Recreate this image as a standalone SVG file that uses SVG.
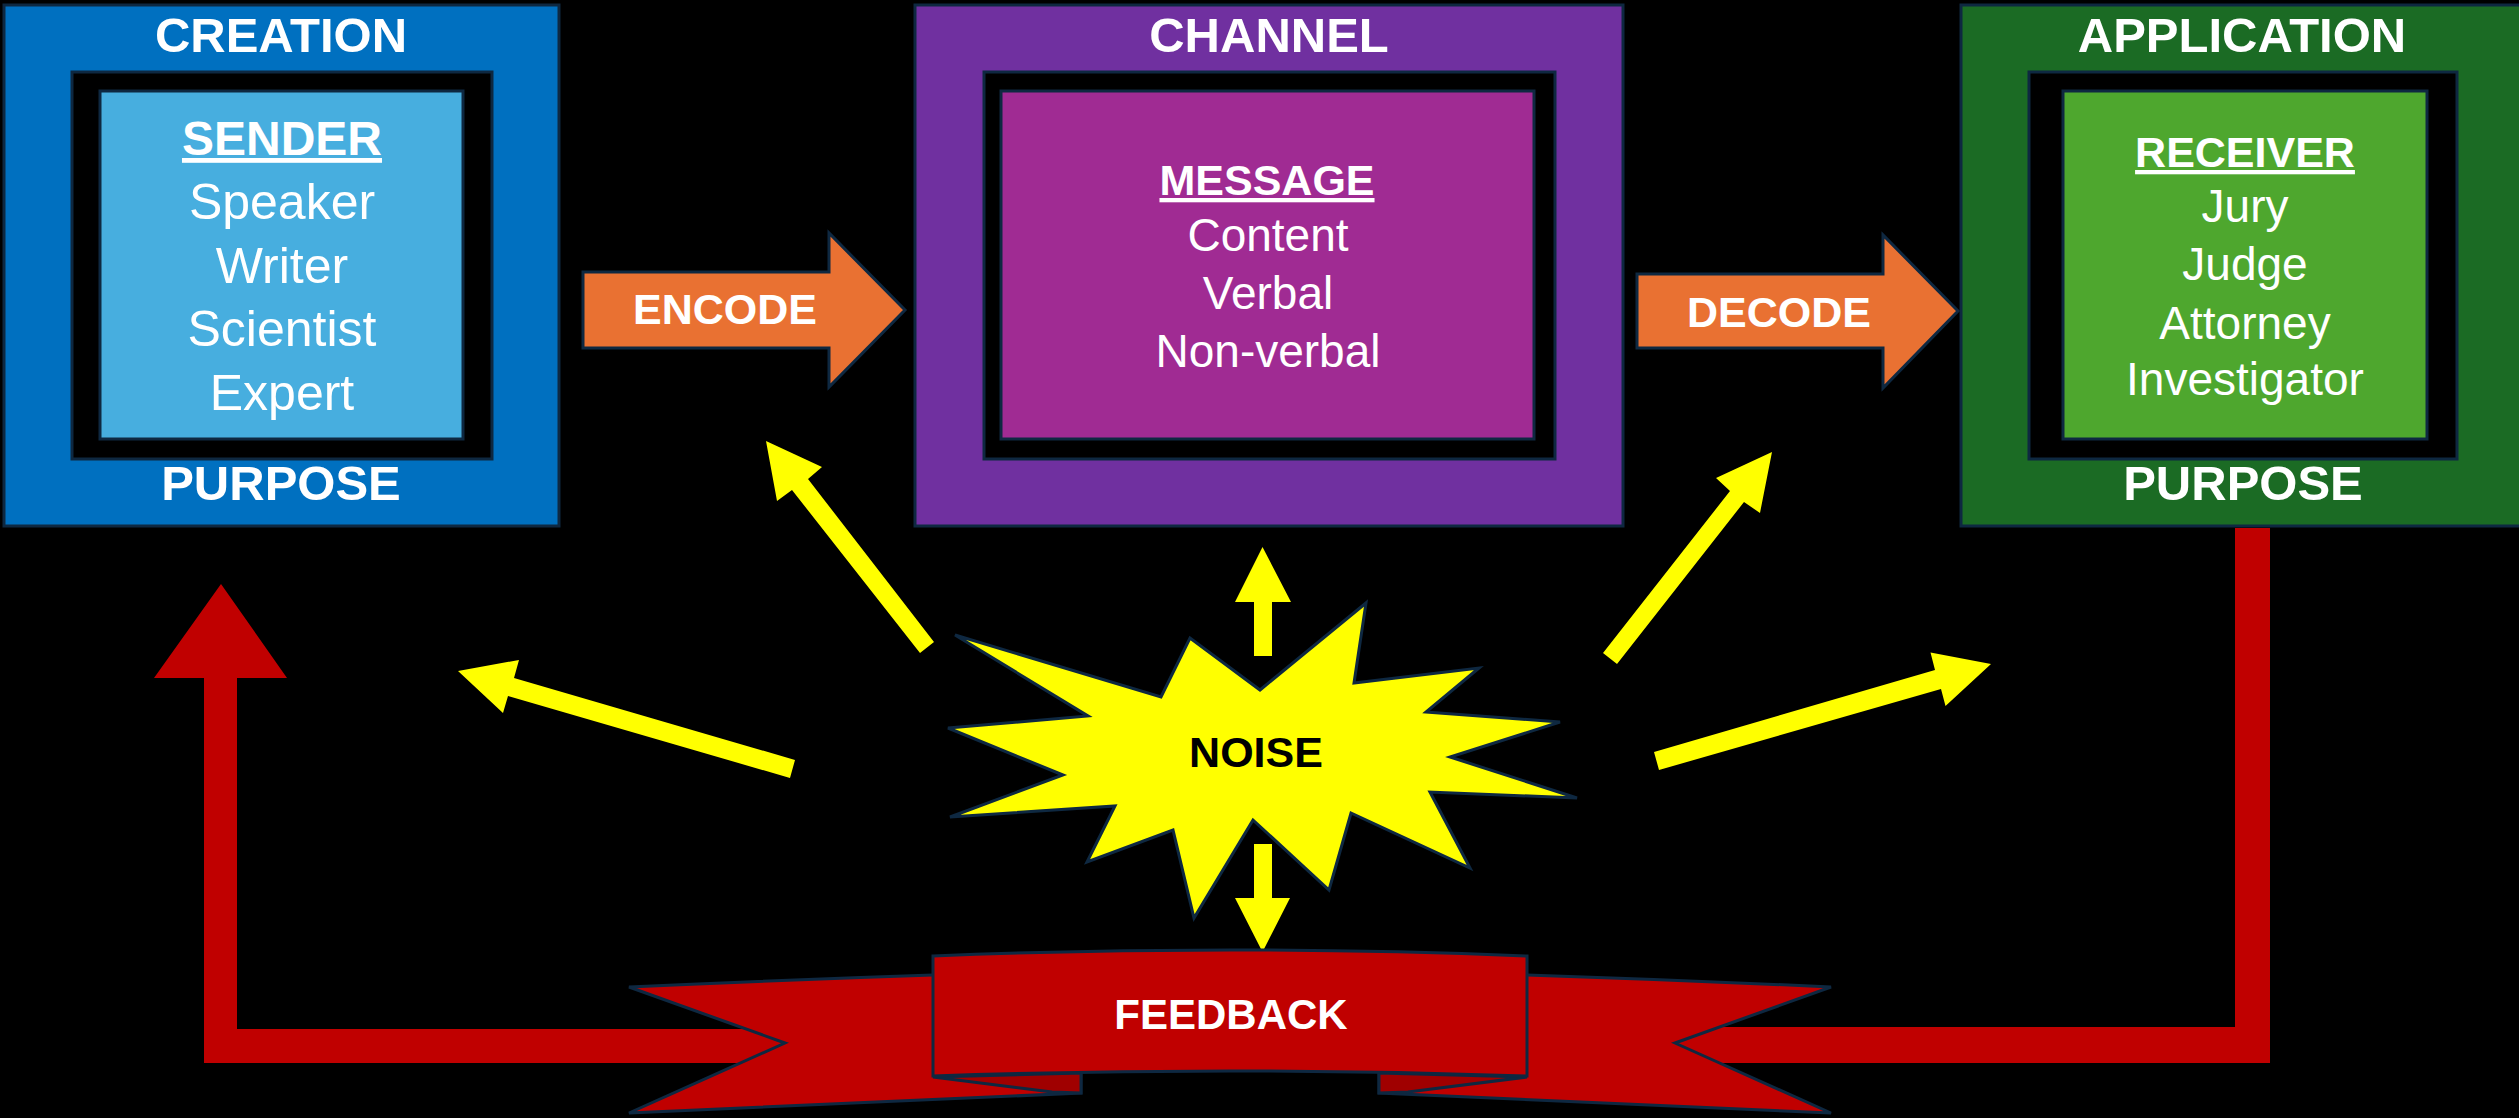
<svg xmlns="http://www.w3.org/2000/svg" width="2519" height="1118" viewBox="0 0 2519 1118">
<style>
.bx{stroke:#0e2841;stroke-width:3}
.frame{fill:#000;stroke:#0e2841;stroke-width:3}
.hd{font-family:"Liberation Sans",Arial,sans-serif;font-weight:bold;fill:#fff;text-anchor:middle}
.it{font-family:"Liberation Sans",Arial,sans-serif;fill:#fff;text-anchor:middle}
.yel{fill:#ffff00}
.red{fill:#c00000}
.rib{fill:#c00000;stroke:#0e2841;stroke-width:3;stroke-linejoin:miter}
.fold{fill:#a00000;stroke:#0e2841;stroke-width:3}
.orange{fill:#e97132;stroke:#0e2841;stroke-width:3}
</style>
<rect width="2519" height="1118" fill="#000"/>

<g id="creation">
<rect class="bx" x="4" y="5" width="555" height="521" fill="#0070c0"/>
<rect class="frame" x="72" y="72" width="420" height="387"/>
<rect class="bx" x="100" y="91" width="363" height="348" fill="#47aedf"/>
<text class="hd" x="281" y="52" font-size="49">CREATION</text>
<text class="hd" x="282" y="155" font-size="48" text-decoration="underline">SENDER</text>
<text class="it" x="282" y="219" font-size="50">Speaker</text>
<text class="it" x="282" y="283" font-size="50">Writer</text>
<text class="it" x="282" y="346" font-size="50">Scientist</text>
<text class="it" x="282" y="410" font-size="50">Expert</text>
<text class="hd" x="281" y="500" font-size="49">PURPOSE</text>
</g>

<g id="channel">
<rect class="bx" x="915" y="5" width="708" height="521" fill="#7030a0"/>
<rect class="frame" x="984" y="72" width="571" height="387"/>
<rect class="bx" x="1001" y="91" width="533" height="348" fill="#a02b93"/>
<text class="hd" x="1269" y="52" font-size="49">CHANNEL</text>
<text class="hd" x="1267" y="195" font-size="43" text-decoration="underline">MESSAGE</text>
<text class="it" x="1268" y="251" font-size="46">Content</text>
<text class="it" x="1268" y="309" font-size="46">Verbal</text>
<text class="it" x="1268" y="367" font-size="46">Non-verbal</text>
</g>

<g id="application">
<rect class="bx" x="1961" y="5" width="570" height="521" fill="#1b6b24"/>
<rect class="frame" x="2029" y="72" width="428" height="387"/>
<rect class="bx" x="2063" y="91" width="364" height="348" fill="#4ea72e"/>
<text class="hd" x="2242" y="52" font-size="49">APPLICATION</text>
<text class="hd" x="2245" y="167" font-size="43" text-decoration="underline">RECEIVER</text>
<text class="it" x="2245" y="222" font-size="46">Jury</text>
<text class="it" x="2245" y="280" font-size="46">Judge</text>
<text class="it" x="2245" y="339" font-size="46">Attorney</text>
<text class="it" x="2245" y="395" font-size="46">Investigator</text>
<text class="hd" x="2243" y="500" font-size="49">PURPOSE</text>
</g>

<g id="encode">
<polygon class="orange" points="583,272 829,272 829,233 905,310 829,387 829,348 583,348"/>
<text class="hd" x="725" y="324" font-size="43">ENCODE</text>
</g>

<g id="decode">
<polygon class="orange" points="1637,274 1883,274 1883,235 1958,311 1883,388 1883,348 1637,348"/>
<text class="hd" x="1779" y="327" font-size="43">DECODE</text>
</g>

<g id="connectors">
<polygon class="yel" points="766,441 822,467 808,479 934,642 920,653 792,490 777,501"/>
<polygon class="yel" points="458,671 519,660 514,678 795,760 790,778 508,696 503,713"/>
<polygon class="yel" points="1772,452 1760,513 1744,502 1617,664 1603,653 1730,491 1716,478"/>
<polygon class="yel" points="1991,664 1945.5,706 1941,689 1659,770 1654,752 1935,670 1930.5,652.5"/>
<polygon class="yel" points="1262.5,547 1291,602 1272,602 1272,656 1254,656 1254,602 1235,602"/>
<polygon class="yel" points="1254,844 1272,844 1272,898 1290,898 1262.5,952 1235,898 1254,898"/>
<polygon class="red" points="221,584 287,678 237,678 237,1029 800,1029 800,1063 204,1063 204,678 154,678"/>
<polygon class="red" points="2235,528 2270,528 2270,1063 1660,1063 1660,1027 2235,1027"/>
</g>

<g id="noise">
<polygon points="955,635 1161,697 1190,638 1260,690 1366,603 1354,683 1479,668 1426,712 1560,722 1450,757 1577,798 1430,792 1470,868 1351,813 1329,890 1253,820 1194,918 1173,830 1087,862 1115,806 950,817 1063,775 948,728 1088,716" fill="#ffff00" stroke="#0e2841" stroke-width="3" stroke-linejoin="miter"/>
<text x="1256" y="767" font-size="43" font-family="Liberation Sans, Arial, sans-serif" font-weight="bold" fill="#000" text-anchor="middle">NOISE</text>
</g>

<g id="feedback">
<path class="rib" d="M629,987 Q780,980 933,975 L1081,972 L1081,1093 Q860,1102 629,1113 L785,1043 Z"/>
<path class="rib" d="M1831,987 Q1680,980 1527,975 L1379,972 L1379,1093 Q1600,1102 1831,1113 L1675,1043 Z"/>
<polygon class="fold" points="933,1077 1081,1073 1081,1093 1052,1092"/>
<polygon class="fold" points="1527,1077 1379,1073 1379,1093 1408,1092"/>
<path class="rib" d="M933,956 Q1230,944 1527,956 L1527,1076 Q1230,1066 933,1076 Z"/>
<text class="hd" x="1231" y="1029" font-size="42">FEEDBACK</text>
</g>
</svg>
